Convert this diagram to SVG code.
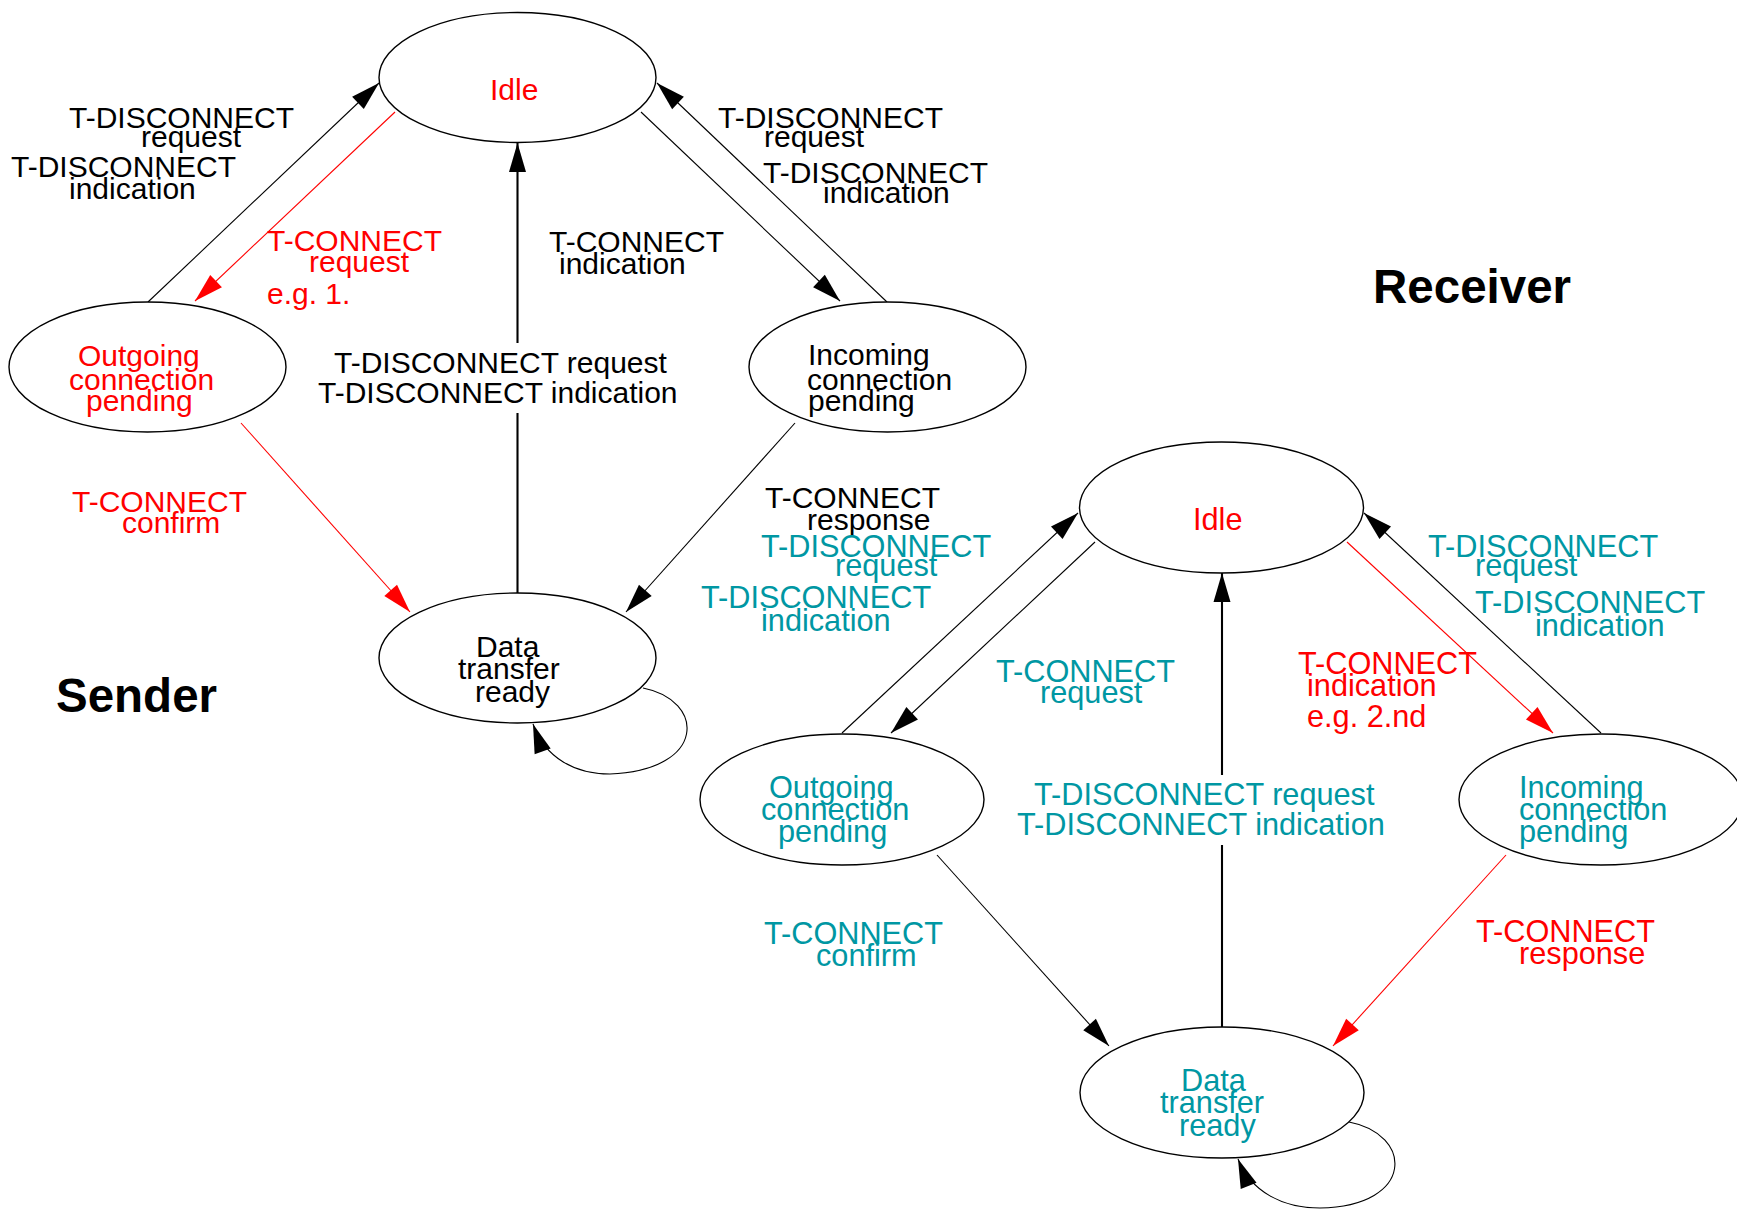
<svg xmlns="http://www.w3.org/2000/svg" width="1737" height="1209" viewBox="0 0 1737 1209">
  <style>
    text { font-family: "Liberation Sans", Arial, Helvetica, sans-serif; }
    .s { font-size: 30px; }
    .r { font-size: 30.7px; }
    .title { font-size: 47.5px; font-weight: bold; fill: #000; }
    .blk { fill: #000; }
    .red { fill: #ff0000; }
    .teal { fill: #0097a3; }
    .state { fill: #fff; stroke: #000; stroke-width: 1.4; }
    .edge { fill: none; stroke: #000; stroke-width: 1.1; }
    .edge.hot { stroke: #ff0000; }
    .edge.thick { stroke-width: 2.1; }
  </style>
  <defs>
    <marker id="arrow" markerUnits="userSpaceOnUse" markerWidth="29" markerHeight="17" refX="29" refY="8.5" orient="auto" overflow="visible">
      <path d="M0,0 L29,8.5 L0,17 z" fill="#000"/>
    </marker>
    <marker id="arrow-red" markerUnits="userSpaceOnUse" markerWidth="29" markerHeight="17" refX="29" refY="8.5" orient="auto" overflow="visible">
      <path d="M0,0 L29,8.5 L0,17 z" fill="#ff0000"/>
    </marker>
  </defs>

  <rect width="1737" height="1209" fill="#fff"/>

  <!-- transitions -->
  <g id="connectors">
    <!-- sender -->
    <line class="edge" x1="148" y1="302" x2="379" y2="83" marker-end="url(#arrow)"/>
    <line class="edge hot" x1="395" y1="112" x2="195" y2="301" marker-end="url(#arrow-red)"/>
    <line class="edge" x1="641" y1="112" x2="840" y2="301" marker-end="url(#arrow)"/>
    <line class="edge" x1="887" y1="302" x2="657" y2="83" marker-end="url(#arrow)"/>
    <line class="edge thick" x1="517.5" y1="593" x2="517.5" y2="413"/>
    <line class="edge thick" x1="517.5" y1="343" x2="517.5" y2="143" marker-end="url(#arrow)"/>
    <line class="edge hot" x1="241" y1="423" x2="410" y2="612" marker-end="url(#arrow-red)"/>
    <line class="edge" x1="795" y1="423" x2="626" y2="612" marker-end="url(#arrow)"/>
    <path class="edge" d="M643,688 C705,700 708,770 610,774 C575,774 545,758 533,724" marker-end="url(#arrow)"/>
    <!-- receiver -->
    <line class="edge" x1="842" y1="733" x2="1078" y2="513" marker-end="url(#arrow)"/>
    <line class="edge" x1="1095" y1="542" x2="891" y2="733" marker-end="url(#arrow)"/>
    <line class="edge hot" x1="1347" y1="542" x2="1553" y2="733" marker-end="url(#arrow-red)"/>
    <line class="edge" x1="1601" y1="733" x2="1364" y2="513" marker-end="url(#arrow)"/>
    <line class="edge thick" x1="1222" y1="1027" x2="1222" y2="845"/>
    <line class="edge thick" x1="1222" y1="775" x2="1222" y2="573" marker-end="url(#arrow)"/>
    <line class="edge" x1="937" y1="855" x2="1109" y2="1046" marker-end="url(#arrow)"/>
    <line class="edge hot" x1="1506" y1="855" x2="1333" y2="1046" marker-end="url(#arrow-red)"/>
    <path class="edge" d="M1349,1122 C1413,1134 1416,1206 1320,1208 C1283,1208 1251,1192 1238,1159" marker-end="url(#arrow)"/>
  </g>

  <!-- sender states -->
  <g id="sender-idle">
    <ellipse class="state" cx="517.5" cy="77.5" rx="138.5" ry="65"/>
    <text class="s red" x="490" y="100">Idle</text>
  </g>
  <g id="sender-outgoing">
    <ellipse class="state" cx="147.5" cy="367" rx="138.5" ry="65"/>
    <text class="s red" x="78" y="366">Outgoing</text>
    <text class="s red" x="69" y="390">connection</text>
    <text class="s red" x="86" y="411">pending</text>
  </g>
  <g id="sender-incoming">
    <ellipse class="state" cx="887.5" cy="367" rx="138.5" ry="65"/>
    <text class="s blk" x="808" y="365">Incoming</text>
    <text class="s blk" x="807" y="390">connection</text>
    <text class="s blk" x="808" y="411">pending</text>
  </g>
  <g id="sender-data">
    <ellipse class="state" cx="517.5" cy="658" rx="138.5" ry="65"/>
    <text class="s blk" x="476" y="657">Data</text>
    <text class="s blk" x="458" y="679">transfer</text>
    <text class="s blk" x="475" y="702">ready</text>
  </g>

  <!-- receiver states -->
  <g id="receiver-idle">
    <ellipse class="state" cx="1221.5" cy="507.5" rx="142" ry="65.5"/>
    <text class="r red" x="1193" y="530">Idle</text>
  </g>
  <g id="receiver-outgoing">
    <ellipse class="state" cx="842" cy="799.5" rx="142" ry="65.5"/>
    <text class="r teal" x="769" y="798">Outgoing</text>
    <text class="r teal" x="761" y="820">connection</text>
    <text class="r teal" x="778" y="842">pending</text>
  </g>
  <g id="receiver-incoming">
    <ellipse class="state" cx="1601" cy="799.5" rx="142" ry="65.5"/>
    <text class="r teal" x="1519" y="798">Incoming</text>
    <text class="r teal" x="1519" y="820">connection</text>
    <text class="r teal" x="1519" y="842">pending</text>
  </g>
  <g id="receiver-data">
    <ellipse class="state" cx="1222" cy="1092.5" rx="142" ry="65.5"/>
    <text class="r teal" x="1181" y="1091">Data</text>
    <text class="r teal" x="1160" y="1113">transfer</text>
    <text class="r teal" x="1179" y="1136">ready</text>
  </g>

  <!-- transition labels -->
  <g id="labels">
    <!-- sender -->
    <text class="s blk" x="69" y="128">T-DISCONNECT</text>
    <text class="s blk" x="141" y="147">request</text>
    <text class="s blk" x="11" y="177">T-DISCONNECT</text>
    <text class="s blk" x="69" y="199">indication</text>

    <text class="s red" x="267" y="251">T-CONNECT</text>
    <text class="s red" x="309" y="272">request</text>
    <text class="s red" x="267" y="304">e.g. 1.</text>

    <text class="s blk" x="549" y="252">T-CONNECT</text>
    <text class="s blk" x="559" y="274">indication</text>

    <text class="s blk" x="334" y="373">T-DISCONNECT request</text>
    <text class="s blk" x="318" y="403">T-DISCONNECT indication</text>

    <text class="s blk" x="718" y="128">T-DISCONNECT</text>
    <text class="s blk" x="764" y="147">request</text>
    <text class="s blk" x="763" y="183">T-DISCONNECT</text>
    <text class="s blk" x="823" y="203">indication</text>

    <text class="s red" x="72" y="512">T-CONNECT</text>
    <text class="s red" x="122" y="533">confirm</text>

    <text class="s blk" x="765" y="508">T-CONNECT</text>
    <text class="s blk" x="807" y="530">response</text>

    <!-- receiver -->
    <text class="r teal" x="761" y="557">T-DISCONNECT</text>
    <text class="r teal" x="835" y="576">request</text>
    <text class="r teal" x="701" y="608">T-DISCONNECT</text>
    <text class="r teal" x="761" y="631">indication</text>

    <text class="r teal" x="996" y="682">T-CONNECT</text>
    <text class="r teal" x="1040" y="703">request</text>

    <text class="r teal" x="1034" y="805">T-DISCONNECT request</text>
    <text class="r teal" x="1017" y="835">T-DISCONNECT indication</text>

    <text class="r teal" x="1428" y="557">T-DISCONNECT</text>
    <text class="r teal" x="1475" y="576">request</text>
    <text class="r teal" x="1475" y="613">T-DISCONNECT</text>
    <text class="r teal" x="1535" y="636">indication</text>

    <text class="r red" x="1298" y="674">T-CONNECT</text>
    <text class="r red" x="1307" y="696">indication</text>
    <text class="r red" x="1307" y="727">e.g. 2.nd</text>

    <text class="r teal" x="764" y="944">T-CONNECT</text>
    <text class="r teal" x="816" y="966">confirm</text>

    <text class="r red" x="1476" y="942">T-CONNECT</text>
    <text class="r red" x="1519" y="964">response</text>
  </g>

  <!-- side titles -->
  <text class="title" x="56" y="712">Sender</text>
  <text class="title" x="1373" y="303">Receiver</text>
</svg>
